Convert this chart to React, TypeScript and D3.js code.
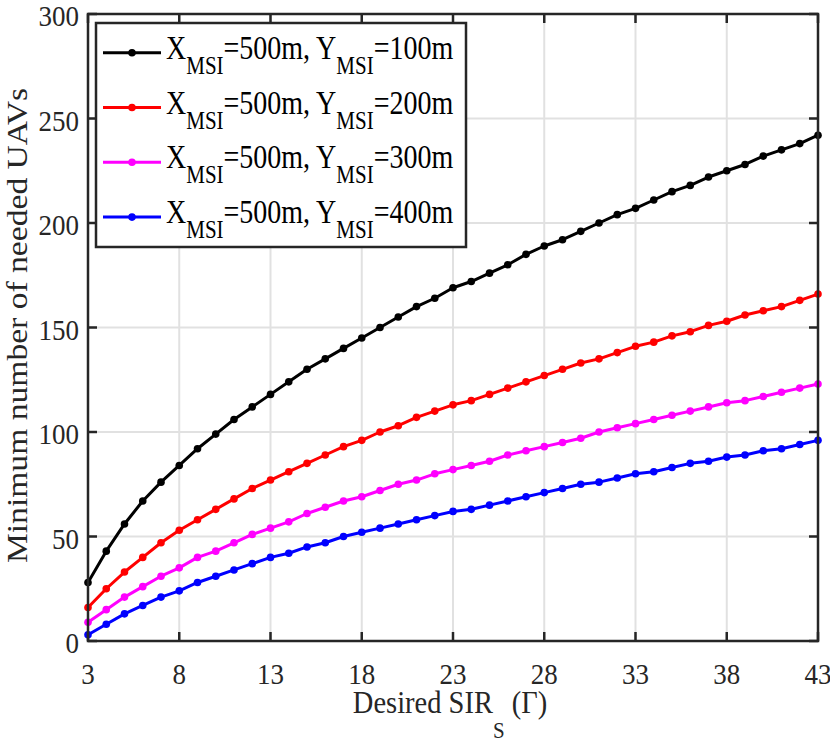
import React from 'react';
import * as d3 from 'd3';

const xValues = [3, 4, 5, 6, 7, 8, 9, 10, 11, 12, 13, 14, 15, 16, 17, 18, 19, 20, 21, 22, 23, 24, 25, 26, 27, 28, 29, 30, 31, 32, 33, 34, 35, 36, 37, 38, 39, 40, 41, 42, 43];

const yms100 = [28, 43, 56, 67, 76, 84, 92, 99, 106, 112, 118, 124, 130, 135, 140, 145, 150, 155, 160, 164, 169, 172, 176, 180, 185, 189, 192, 196, 200, 204, 207, 211, 215, 218, 222, 225, 228, 232, 235, 238, 242];
const yms200 = [16, 25, 33, 40, 47, 53, 58, 63, 68, 73, 77, 81, 85, 89, 93, 96, 100, 103, 107, 110, 113, 115, 118, 121, 124, 127, 130, 133, 135, 138, 141, 143, 146, 148, 151, 153, 156, 158, 160, 163, 166];
const yms300 = [9, 15, 21, 26, 31, 35, 40, 43, 47, 51, 54, 57, 61, 64, 67, 69, 72, 75, 77, 80, 82, 84, 86, 89, 91, 93, 95, 97, 100, 102, 104, 106, 108, 110, 112, 114, 115, 117, 119, 121, 123];
const yms400 = [3, 8, 13, 17, 21, 24, 28, 31, 34, 37, 40, 42, 45, 47, 50, 52, 54, 56, 58, 60, 62, 63, 65, 67, 69, 71, 73, 75, 76, 78, 80, 81, 83, 85, 86, 88, 89, 91, 92, 94, 96];

const xTicks = [3, 8, 13, 18, 23, 28, 33, 38, 43];
const yTicks = [0, 50, 100, 150, 200, 250, 300];

const seriesNames = ['100m', '200m', '300m', '400m'];
const seriesColors = ['#000000', '#ff0000', '#ff00ff', '#0000ff'];
const seriesValues = [yms100, yms200, yms300, yms400];

const W = 830;
const H = 748;
const left = 88, right = 818, top = 14, bottom = 641;
const axisColor = '#262626';
const font = '"Liberation Serif", "Times New Roman", serif';
const sy = 1.12;

const App: React.FC = () => {
  const x = d3.scaleLinear().domain([3, 43]).range([left, right]);
  const y = d3.scaleLinear().domain([0, 300]).range([bottom, top]);
  const line = d3.line<number>().x((_, i) => x(xValues[i])).y(d => y(d));

  const tickLen = 9;
  const lsy = sy + 0.05;

  return (
    <div style={{ position: 'fixed', left: 0, top: 0 }}>
      <svg width={W} height={H} style={{ display: 'block', background: '#fff' }}>
        <rect x={0} y={0} width={W} height={H} fill="#fff" />
        {/* grid */}
        {xTicks.map(t => (
          <line key={'gx' + t} x1={x(t)} x2={x(t)} y1={top} y2={bottom} stroke="#e1e1e1" strokeWidth={2} />
        ))}
        {yTicks.map(t => (
          <line key={'gy' + t} x1={left} x2={right} y1={y(t)} y2={y(t)} stroke="#e1e1e1" strokeWidth={2} />
        ))}

        {/* series */}
        {seriesValues.map((vals, si) => (
          <g key={'s' + si}>
            <path d={line(vals) || ''} fill="none" stroke={seriesColors[si]} strokeWidth={3} strokeLinejoin="round" />
            {vals.map((v, i) => (
              <circle key={i} cx={x(xValues[i])} cy={y(v)} r={3.8} fill={seriesColors[si]} />
            ))}
          </g>
        ))}

        {/* axes box and ticks */}
        <rect x={left} y={top} width={right - left} height={bottom - top} fill="none" stroke={axisColor} strokeWidth={2.5} />
        {xTicks.map(t => (
          <g key={'tx' + t}>
            <line x1={x(t)} x2={x(t)} y1={bottom} y2={bottom - tickLen} stroke={axisColor} strokeWidth={2.5} />
            <line x1={x(t)} x2={x(t)} y1={top} y2={top + tickLen} stroke={axisColor} strokeWidth={2.5} />
            <text transform={`translate(${x(t)},${684}) scale(1,${sy})`} textAnchor="middle" fontFamily={font} fontSize={27} fill="#262626">{t}</text>
          </g>
        ))}
        {yTicks.map(t => (
          <g key={'ty' + t}>
            <line x1={left} x2={left + tickLen} y1={y(t)} y2={y(t)} stroke={axisColor} strokeWidth={2.5} />
            <line x1={right} x2={right - tickLen} y1={y(t)} y2={y(t)} stroke={axisColor} strokeWidth={2.5} />
            <text transform={`translate(${79},${y(t) + 12}) scale(1,${sy})`} textAnchor="end" fontFamily={font} fontSize={27} fill="#262626">{t}</text>
          </g>
        ))}

        {/* axis labels */}
        <text transform={`translate(${(left + right) / 2 - 3},${713}) scale(1,${sy})`} textAnchor="middle" fontFamily={font} fontSize={28.5} fill="#262626">
          Desired SIR<tspan fontSize={21} dy={25 / sy}>S</tspan><tspan dy={-25 / sy}> (Γ)</tspan>
        </text>
        <text transform={`translate(${27},${(top + bottom) / 2 - 2}) rotate(-90) scale(${sy},1)`} textAnchor="middle" fontFamily={font} fontSize={30} fill="#262626">
          Minimum number of needed UAVs
        </text>

        {/* legend */}
        <rect x={96} y={23} width={370} height={224} fill="#fff" stroke={axisColor} strokeWidth={2.5} />
        {seriesNames.map((name, i) => {
          const cy = 52.7 + i * 54.8;
          return (
            <g key={'lg' + i}>
              <line x1={103} x2={161} y1={cy} y2={cy} stroke={seriesColors[i]} strokeWidth={3} />
              <circle cx={132} cy={cy} r={3.8} fill={seriesColors[i]} />
              <text transform={`translate(${166},${cy + 6}) scale(1,${lsy})`} fontFamily={font} fontSize={28} fill="#000">
                X<tspan fontSize={21} dy={15 / lsy}>MSI</tspan>
                <tspan dy={-15 / lsy}>=500m, Y</tspan>
                <tspan fontSize={21} dy={15 / lsy}>MSI</tspan>
                <tspan dy={-15 / lsy}>={name}</tspan>
              </text>
            </g>
          );
        })}
      </svg>
    </div>
  );
};

export default App;
